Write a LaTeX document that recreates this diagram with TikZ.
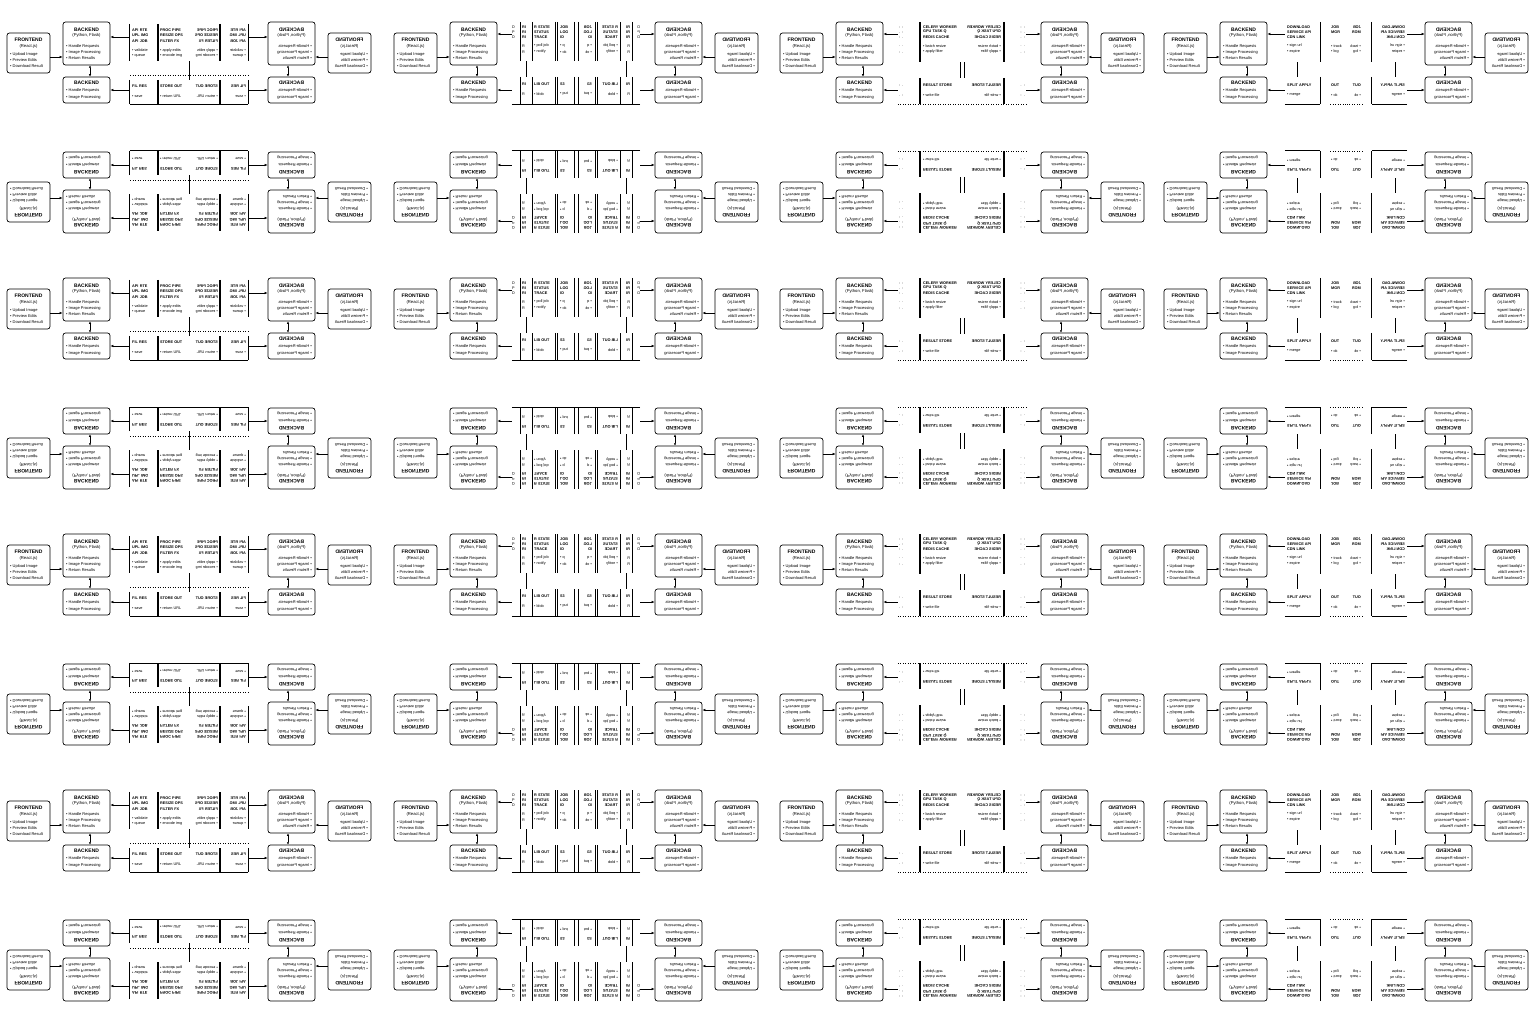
\documentclass[tikz,border=0pt]{standalone}
\usepackage{fontspec}
\setmainfont{Liberation Sans}
\usetikzlibrary{arrows.meta}

\tikzset{
  bx/.style={draw, rounded corners=2.5pt, line width=0.7pt, inner sep=0pt},
  blk/.style={inner sep=0pt},
  ttl/.style={font=\fontsize{5}{5}\selectfont\bfseries, inner sep=0pt},
  sbt/.style={font=\fontsize{4.2}{4.2}\selectfont, inner sep=0pt},
  bul/.style={font=\fontsize{4}{4}\selectfont, inner sep=0pt, anchor=west},
  mtx/.style={font=\fontsize{3.8}{3.8}\selectfont, inner sep=0pt, anchor=west},
  mtb/.style={font=\fontsize{3.8}{3.8}\selectfont\bfseries, inner sep=0pt, anchor=west},
  arr/.style={-{Latex[length=3pt,width=2.6pt]}, line width=0.7pt},
  darr/.style={{Latex[length=2.4pt,width=2.2pt]}-{Latex[length=2.4pt,width=2.2pt]}, line width=0.7pt},
  vbar/.style={line width=1.1pt},
  lbar/.style={line width=0.6pt},
  hl/.style={line width=0.6pt},
  dotl/.style={line width=0.5pt, dotted},
  vc/.style={line width=0.8pt},
}

% ---------- left half of one tile (x relative to mirror axis, y down from tile top)
\newcommand{\halftile}[1]{%
  \node[bx, minimum width=43pt, minimum height=40pt] (fe) at (-160.5,53) {};
  \node[ttl] (fet) at (-160.5,40) {FRONTEND};
  \node[sbt] (fes) at (-160.5,46) {(React.js)};
  \node[bul] (fe1) at (-179,54) {• Upload Image};
  \node[bul] (fe2) at (-179,60) {• Preview Edits};
  \node[bul] (fe3) at (-179,66.5) {• Download Result};
  \node[bx, minimum width=47pt, minimum height=43pt] (ba) at (-102.5,43.5) {};
  \node[ttl] (bat) at (-102.5,29.5) {BACKEND};
  \node[sbt] (bas) at (-102.5,35) {(Python, Flask)};
  \node[bul] (ba1) at (-123,46) {• Handle Requests};
  \node[bul] (ba2) at (-123,52) {• Image Processing};
  \node[bul] (ba3) at (-123,58) {• Return Results};
  \node[bx, minimum width=47pt, minimum height=26pt] (bb) at (-102.5,90) {};
  \node[ttl] (bbt) at (-102.5,83) {BACKEND};
  \node[bul] (bb1) at (-123,90.5) {• Handle Requests};
  \node[bul] (bb2) at (-123,97) {• Image Processing};
  \coordinate (fa) at (-140,57);
  \coordinate (va) at (-99,0);
  \draw[arr] (fe.east |- fa) -- (ba.west |- fa);
  \draw[darr] (ba.south -| va) -- (bb.north -| va);
  #1%
}

% ---------- middle variants
\newcommand{\midA}{%
  \node[blk, minimum width=59pt, minimum height=37pt] (mt) at (-29.5,42.5) {};
  \node[blk, minimum width=59pt, minimum height=24pt] (mb) at (-29.5,92) {};
  \draw[vbar] (mt.north west) -- (mt.south west);
  \draw[vbar] (mb.north west) -- (mb.south west);
  \draw[vbar] (-31,24) -- (-31,61);
  \draw[vbar] (-31,80) -- (-31,104);
  \draw[hl] (mb.south west) -- (mb.south east);
  \draw[dotl] (-59,75) -- (0,75);
  \node[mtb] (a1) at (-57,30) {API\,\,RTE};
  \node[mtb] (a2) at (-57,35.5) {UPL\,\,IMG};
  \node[mtb] (a3) at (-57,41) {API\,\,JOB};
  \node[mtx] (a4) at (-57,50.5) {• validate};
  \node[mtx] (a5) at (-57,56) {• queue};
  \node[mtb] (b1) at (-29,30) {PROC PIPE};
  \node[mtb] (b2) at (-29,35.5) {RESIZE OPS};
  \node[mtb] (b3) at (-29,41) {FILTER FX};
  \node[mtx] (b4) at (-29,50.5) {• apply edits};
  \node[mtx] (b5) at (-29,56) {• encode img};
  \node[mtb] (c1) at (-57,86) {FIL\,\,RES};
  \node[mtx] (c2) at (-57,96) {• save};
  \node[mtb] (d1) at (-29,86) {STORE OUT};
  \node[mtx] (d2) at (-29,96) {• return URL};
  \coordinate (ya) at (0,37);
  \coordinate (yb) at (0,90);
  \coordinate (cx) at (0,0);
  \draw[arr] (mt.west |- ya) -- (ba.east |- ya);
  \draw[arr] (mb.west |- yb) -- (bb.east |- yb);
  \draw[vc] (mt.south -| cx) -- (mb.north -| cx);
}

\newcommand{\midB}{%
  \node[blk, minimum width=64pt, minimum height=39pt] (mt) at (-32,41.5) {};
  \node[blk, minimum width=64pt, minimum height=27pt] (mb) at (-32,90.5) {};
  \foreach \bx in {-56,-44,-21,-19,-2} {
    \draw[lbar] (\bx,22) -- (\bx,61);
    \draw[lbar] (\bx,77) -- (\bx,104);
  }
  \draw[hl] (mb.south west) -- (mb.south east);
  \node[mtx] (p1) at (-64,27) {D};
  \node[mtx] (p2) at (-64,32) {P};
  \node[mtx] (p3) at (-64,37) {D};
  \node[mtb] (q1) at (-54,27) {RI};
  \node[mtb] (q2) at (-54,32) {RI};
  \node[mtb] (q3) at (-54,37) {RI};
  \node[mtx] (q4) at (-54,46) {R};
  \node[mtx] (q5) at (-54,52) {R};
  \node[mtb] (r1) at (-42,27) {R STATE};
  \node[mtb] (r2) at (-42,32) {STATUS};
  \node[mtb] (r3) at (-42,37) {TRACE};
  \node[mtx] (r4) at (-42,46) {• poll job};
  \node[mtx] (r5) at (-42,52) {• notify};
  \node[mtb] (s1) at (-16,27) {JOB};
  \node[mtb] (s2) at (-16,32) {LOG};
  \node[mtb] (s3) at (-16,37) {ID};
  \node[mtx] (s4) at (-16,46) {• q};
  \node[mtx] (s5) at (-16,52) {• ok};
  \node[mtb] (t1) at (-54,84) {RI};
  \node[mtx] (t2) at (-54,94) {R};
  \node[mtb] (t3) at (-42,84) {LIB OUT};
  \node[mtx] (t4) at (-42,94) {• blob};
  \node[mtb] (t5) at (-16,84) {S3};
  \node[mtx] (t6) at (-16,94) {• put};
  \coordinate (ya) at (0,34);
  \coordinate (yb) at (0,90);
  \coordinate (cx) at (-50,0);
  \draw[arr] (mt.west |- ya) -- (ba.east |- ya);
  \draw[arr] (mb.west |- yb) -- (bb.east |- yb);
  \draw[vc] (mt.south -| cx) -- (mb.north -| cx);
}

\newcommand{\midC}{%
  \node[blk, minimum width=64pt, minimum height=40pt] (mt) at (-32,42) {};
  \node[blk, minimum width=64pt, minimum height=26pt] (mb) at (-32,91) {};
  \draw[vbar] (-42,22) -- (-42,62);
  \draw[vbar] (-42,78) -- (-42,104);
  \draw[dotl] (mb.south west) -- (mb.south east);
  \node[mtx] (p1) at (-63,27) {:\ \ :};
  \node[mtx] (p2) at (-63,32) {.\ \ :};
  \node[mtx] (p3) at (-63,37) {:\ \ .};
  \node[mtx] (p4) at (-63,46) {.\ \ .};
  \node[mtx] (p5) at (-63,52) {:\ \ .};
  \node[mtb] (r1) at (-39,27) {CELERY WORKER};
  \node[mtb] (r2) at (-39,32) {GPU TASK Q};
  \node[mtb] (r3) at (-39,37) {REDIS CACHE};
  \node[mtx] (r4) at (-39,46) {• batch resize};
  \node[mtx] (r5) at (-39,52) {• apply filter};
  \node[mtx] (t1) at (-63,85) {:\ \ .};
  \node[mtx] (t2) at (-63,95) {.\ \ :};
  \node[mtb] (t3) at (-39,85) {RESULT STORE};
  \node[mtx] (t4) at (-39,95) {• write file};
  \coordinate (ya) at (0,34);
  \coordinate (yb) at (0,90);
  \coordinate (cx) at (-2,0);
  \draw[arr] (mt.west |- ya) -- (ba.east |- ya);
  \draw[arr] (mb.west |- yb) -- (bb.east |- yb);
  \draw[vc] (mt.south -| cx) -- (mb.north -| cx);
}

\newcommand{\midD}{%
  \node[blk, minimum width=35pt, minimum height=40pt] (mt) at (-43.5,42) {};
  \node[blk, minimum width=35pt, minimum height=27pt] (mb) at (-43.5,90.5) {};
  \draw[vbar] (mt.north east) -- (mt.south east);
  \draw[vbar] (mb.north east) -- (mb.south east);
  \draw[hl] (mb.south west) -- (mb.south east);
  \draw[dotl] (-16,104) -- (0,104);
  \node[mtb] (r1) at (-59,27) {DOWNLOAD};
  \node[mtb] (r2) at (-59,32) {SERVICE API};
  \node[mtb] (r3) at (-59,37) {CDN LINK};
  \node[mtx] (r4) at (-59,46) {• sign url};
  \node[mtx] (r5) at (-59,52) {• expire};
  \node[mtb] (s1) at (-15,27) {JOB};
  \node[mtb] (s2) at (-15,32) {MGR};
  \node[mtx] (s4) at (-15,46) {• track};
  \node[mtx] (s5) at (-15,52) {• log};
  \node[mtb] (t1) at (-59,85) {SPLIT APPLY};
  \node[mtx] (t2) at (-59,95) {• merge};
  \node[mtb] (t3) at (-15,85) {OUT};
  \node[mtx] (t4) at (-15,95) {• ok};
  \coordinate (ya) at (0,34);
  \coordinate (yb) at (0,90);
  \coordinate (cx) at (-49,0);
  \draw[arr] (mt.west |- ya) -- (ba.east |- ya);
  \draw[arr] (mb.west |- yb) -- (bb.east |- yb);
  \draw[vc] (mt.south -| cx) -- (mb.north -| cx);
}

\begin{document}
\begin{tikzpicture}[x=1pt, y=-1pt]
  \useasboundingbox (0,0) rectangle (1536,1024);
  \fill[white] (0,0) rectangle (1536,1024);
  \foreach \ax/\mv in {189/\midA, 576/\midB, 962/\midC, 1346/\midD} {
    \foreach \k in {0,1,2,3} {
      \pgfmathsetmacro\ty{256*\k}
      \pgfmathsetmacro\tf{256*\k+255}
      \begin{scope}[shift={(\ax,\ty)}]
        \halftile{\mv}
      \end{scope}
      \begin{scope}[shift={(\ax,\ty)}, xscale=-1, transform shape]
        \halftile{\mv}
      \end{scope}
      \begin{scope}[shift={(\ax,\tf)}, yscale=-1, transform shape]
        \halftile{\mv}
      \end{scope}
      \begin{scope}[shift={(\ax,\tf)}, xscale=-1, yscale=-1, transform shape]
        \halftile{\mv}
      \end{scope}
    }
  }
\end{tikzpicture}
\end{document}
